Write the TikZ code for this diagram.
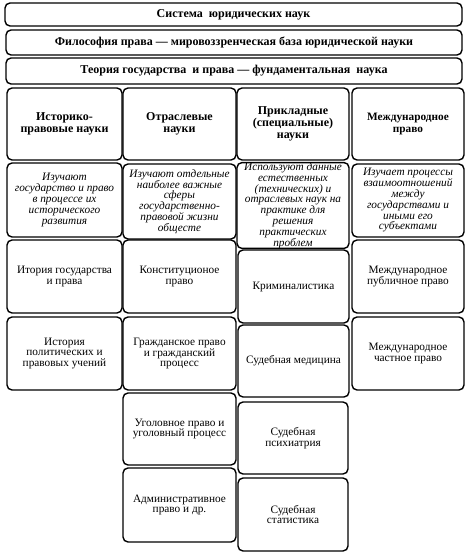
\documentclass[tikz,border=0pt]{standalone}
\usepackage{fontspec}
\setmainfont{Liberation Serif}
\tikzset{
  box/.style={draw, line width=1.4pt, rounded corners=5pt, inner sep=0pt, align=center},
  titlebox/.style={box, font=\bfseries\fontsize{12}{13}\selectfont},
  headbox/.style={box, font=\bfseries\fontsize{12}{12}\selectfont},
  descbox/.style={box, font=\itshape\fontsize{11.3}{10.8}\selectfont},
  itembox/.style={box, font=\fontsize{11.3}{10.6}\selectfont}
}
\newcommand\bx[7]{%
  \pgfmathsetmacro\bxw{#4-#2}\pgfmathsetmacro\bxh{#5-#3}%
  \node[#1, minimum width=\bxw pt, minimum height=\bxh pt] (#6) at ({(#2+#4)/2},{(#3+#5)/2}) {#7};}
\begin{document}
\begin{tikzpicture}[x=1pt,y=-1pt]
\useasboundingbox (0,0) rectangle (466,555);
% top rows
\bx{titlebox}{5}{3}{462}{26}{sys}{Система\ \ юридических наук}
\bx{titlebox}{6}{30}{462}{55}{phil}{Философия права — мировоззренческая база юридической науки}
\bx{titlebox}{6}{58}{462}{84}{theory}{Теория государства \ и права — фундаментальная \ наука}
% headers
\bx{headbox}{7}{88}{122}{160}{h1}{Историко-\\правовые науки}
\bx{headbox}{123}{88}{236}{160}{h2}{Отраслевые\\науки}
\bx{headbox}{237}{88}{349}{160}{h3}{Прикладные\\(специальные)\\науки}
\bx{headbox, font=\bfseries\fontsize{11.3}{12}\selectfont}{352}{88}{464}{160}{h4}{Международное\\право}
% descriptions
\bx{descbox}{7}{163}{122}{237}{d1}{Изучают\\государство и право\\в процессе их\\исторического\\развития}
\bx{descbox}{123}{164}{236}{239}{d2}{Изучают отдельные\\наиболее важные\\сферы\\государственно-\\правовой жизни\\общесте}
\bx{descbox}{237}{164}{349}{247}{d3}{Используют данные\\естественных\\(технических) и\\отраслевых наук на\\практике для\\решения\\практических\\проблем}
\bx{descbox}{352}{164}{464}{237}{d4}{Изучает процессы\\взаимоотношений\\между\\государствами и\\иными его\\субъектами}
% row 3
\bx{itembox}{7}{240}{122}{313}{a1}{Итория государства\\и права}
\bx{itembox}{123}{240}{236}{313}{a2}{Конституционое\\право}
\bx{itembox}{238}{250}{349}{323}{a3}{Криминалистика}
\bx{itembox}{352}{240}{464}{313}{a4}{Международное\\публичное право}
% row 4
\bx{itembox}{7}{317}{122}{390}{b1}{История\\политических и\\правовых учений}
\bx{itembox}{123}{317}{236}{390}{b2}{Гражданское право\\и гражданский\\процесс}
\bx{itembox}{238}{325}{349}{397}{b3}{Судебная медицина}
\bx{itembox}{352}{317}{464}{390}{b4}{Международное\\частное право}
% row 5
\bx{itembox}{123}{393}{236}{465}{c2}{Уголовное право и\\уголовный процесс}
\bx{itembox}{238}{402}{348}{474}{c3}{Судебная\\психиатрия}
% row 6
\bx{itembox}{123}{468}{236}{542}{e2}{Административное\\право и др.}
\bx{itembox}{238}{478}{348}{551}{e3}{Судебная\\статистика}
\end{tikzpicture}
\end{document}
